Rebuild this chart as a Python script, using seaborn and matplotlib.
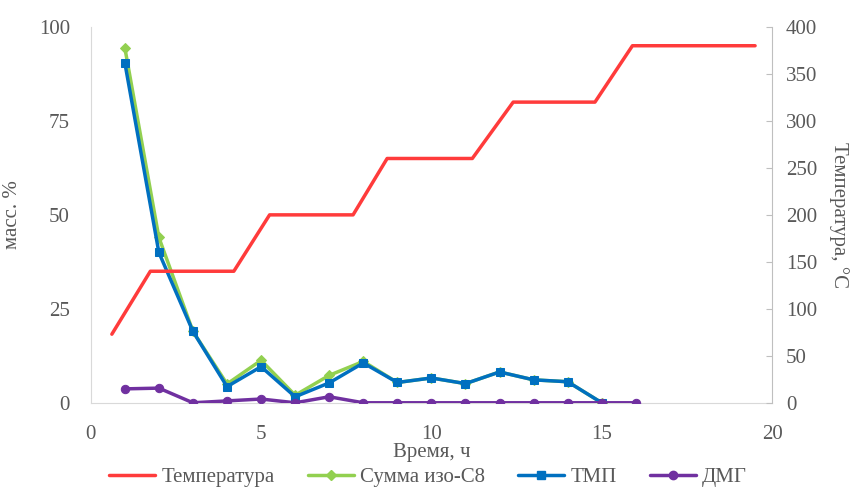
import matplotlib
matplotlib.use("Agg")
import matplotlib.pyplot as plt
import seaborn as sns
import pandas as pd
from matplotlib.lines import Line2D

# Data
time_pts = [1, 2, 3, 4, 5, 6, 7, 8, 9, 10, 11, 12, 13, 14, 15, 16]
sum_iso_c8 = [94.5, 44, 19, 5, 11.3, 2, 7.3, 11, 5.4, 6.6, 5.1, 8.2, 6.1, 5.6, 0]
tmp_vals = [90.5, 40, 19, 4.3, 9.6, 1.6, 5.3, 10.6, 5.4, 6.6, 5.1, 8.2, 6.1, 5.6, 0]
dmg_vals = [3.7, 3.9, 0, 0.5, 1.0, 0, 1.6, 0, 0, 0, 0, 0, 0, 0, 0, 0]
temp_time = [0.62, 1.75, 4.2, 5.25, 7.7, 8.7, 11.2, 12.4, 14.8, 15.9, 19.5]
temp_vals = [73, 140, 140, 200, 200, 260, 260, 320, 320, 380, 380]

x_ticks = [0, 5, 10, 15, 20]
y_ticks = [0, 25, 50, 75, 100]
y2_ticks = [0, 50, 100, 150, 200, 250, 300, 350, 400]

labels = ["Температура", "Сумма изо-С8", "ТМП", "ДМГ"]
c_temp, c_sum, c_tmp, c_dmg = "#FF3B3B", "#92D050", "#0070C0", "#7030A0"

sns.set_style("white")
plt.rcParams["font.family"] = ["Liberation Serif", "DejaVu Serif"]
grey = "#595959"
fs = 15

fig = plt.figure(figsize=(8.56, 4.90), dpi=100)
ax = fig.add_axes([0.106, 0.178, 0.796, 0.767])
ax2 = ax.twinx()

df_sum = pd.DataFrame({"t": time_pts[:len(sum_iso_c8)], "v": sum_iso_c8})
df_tmp = pd.DataFrame({"t": time_pts[:len(tmp_vals)], "v": tmp_vals})
df_dmg = pd.DataFrame({"t": time_pts[:len(dmg_vals)], "v": dmg_vals})
df_temp = pd.DataFrame({"t": temp_time, "v": temp_vals})

sns.lineplot(data=df_sum, x="t", y="v", ax=ax, color=c_sum, lw=2.5,
             marker="D", markersize=5.5, markeredgecolor=c_sum, zorder=3)
sns.lineplot(data=df_tmp, x="t", y="v", ax=ax, color=c_tmp, lw=2.5,
             marker="s", markersize=6, markeredgecolor=c_tmp, zorder=4)
sns.lineplot(data=df_dmg, x="t", y="v", ax=ax, color=c_dmg, lw=2.5,
             marker="o", markersize=6, markeredgecolor=c_dmg, zorder=5)
sns.lineplot(data=df_temp, x="t", y="v", ax=ax2, color=c_temp, lw=2.5, zorder=2)

ax.set_xlim(0, 20)
ax.set_ylim(0, 100)
ax2.set_ylim(0, 400)
ax.set_xticks(x_ticks)
ax.set_yticks(y_ticks)
ax2.set_yticks(y2_ticks)

for a in (ax, ax2):
    for s in a.spines.values():
        s.set_visible(False)
ax.spines["left"].set_visible(True)
ax.spines["left"].set_color("#D9D9D9")
ax.spines["bottom"].set_visible(True)
ax.spines["bottom"].set_color("#D9D9D9")
ax2.spines["right"].set_visible(True)
ax2.spines["right"].set_color("#BFBFBF")

ax.tick_params(axis="x", length=0, labelsize=fs, labelcolor=grey, pad=16)
ax.tick_params(axis="y", length=0, labelsize=fs, labelcolor=grey, pad=15)
ax2.tick_params(axis="y", direction="in", length=4, color="#BFBFBF",
                labelsize=fs, labelcolor=grey, pad=10)

ax.set_xlabel("Время, ч", fontsize=fs, color=grey, labelpad=-1)
ax.set_ylabel("масс. %", fontsize=fs, color=grey, labelpad=12)
ax2.set_ylabel("Температура, °С", fontsize=fs, color=grey, rotation=270, labelpad=23)

handles = [
    Line2D([], [], color=c_temp, lw=2.5),
    Line2D([], [], color=c_sum, lw=2.5, marker="D", markersize=5.5),
    Line2D([], [], color=c_tmp, lw=2.5, marker="s", markersize=6),
    Line2D([], [], color=c_dmg, lw=2.5, marker="o", markersize=6),
]
leg = fig.legend(handles, labels, loc="lower center", ncol=4, frameon=False,
                 bbox_to_anchor=(0.5, -0.032), fontsize=fs, handlelength=2.2,
                 handletextpad=0.3, columnspacing=1.6)
for t in leg.get_texts():
    t.set_color(grey)

fig.savefig("out.png", dpi=100)
